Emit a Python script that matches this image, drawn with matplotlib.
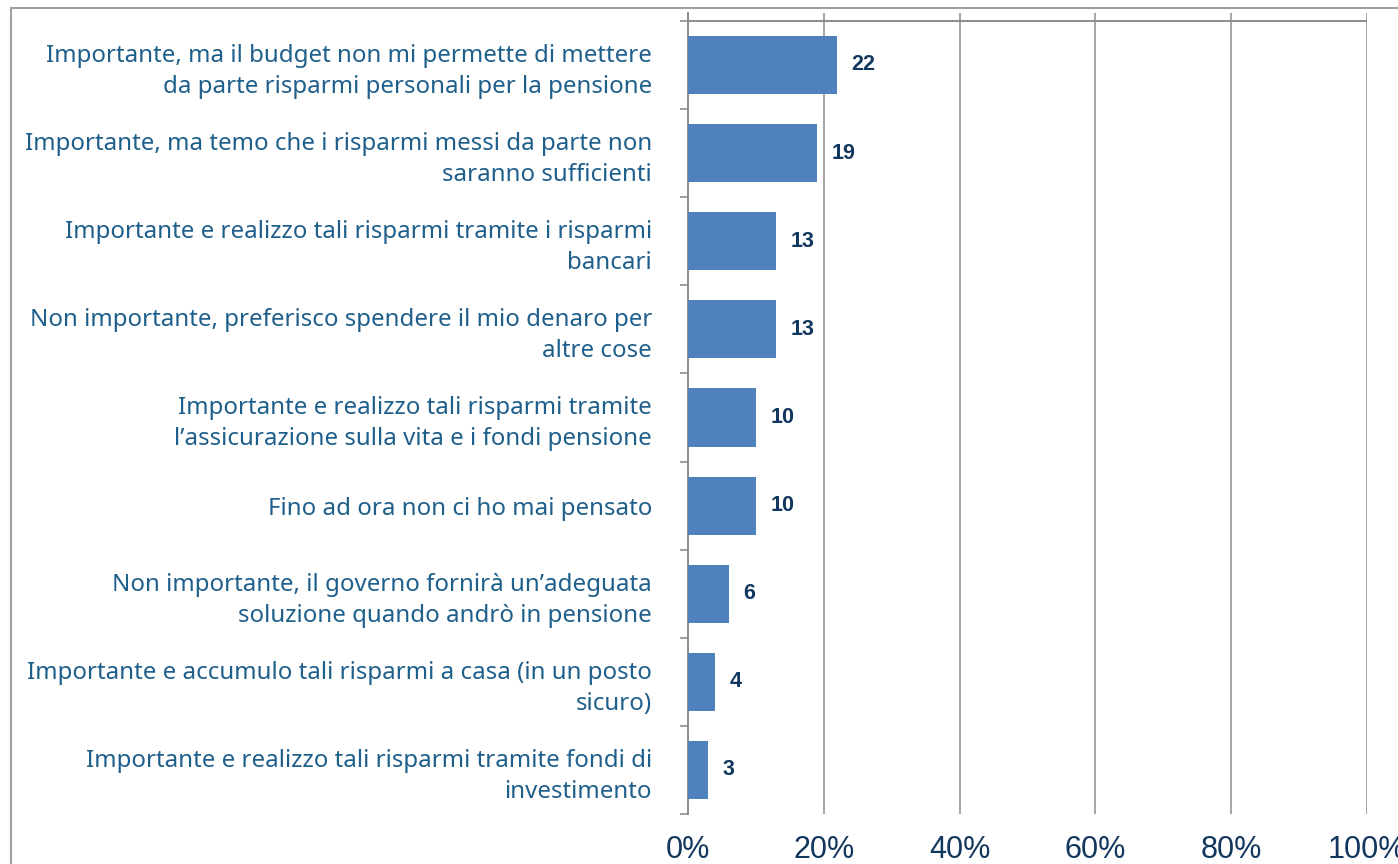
import matplotlib.pyplot as plt
from matplotlib.patches import Rectangle

# risposte (dall'alto verso il basso) e percentuali
labels = [
    'Importante, ma il budget non mi permette di mettere\nda parte risparmi personali per la pensione',
    'Importante, ma temo che i risparmi messi da parte non\nsaranno sufficienti',
    'Importante e realizzo tali risparmi tramite i risparmi\nbancari',
    'Non importante, preferisco spendere il mio denaro per\naltre cose',
    'Importante e realizzo tali risparmi tramite\nl\u2019assicurazione sulla vita e i fondi pensione',
    'Fino ad ora non ci ho mai pensato',
    'Non importante, il governo fornirà un\u2019adeguata\nsoluzione quando andrò in pensione',
    'Importante e accumulo tali risparmi a casa (in un posto\nsicuro)',
    'Importante e realizzo tali risparmi tramite fondi di\ninvestimento',
]
values = [22, 19, 13, 13, 10, 10, 6, 4, 3]
xticks = [0, 20, 40, 60, 80, 100]
xtick_labels = ['0%', '20%', '40%', '60%', '80%', '100%']

bar_col = '#4F81BD'
text_col = '#1F5F8B'
num_col = '#12375F'
line_col = '#8C8C8C'

fig = plt.figure(figsize=(13.98, 8.64), dpi=100)
ax = fig.add_axes([688 / 1398, 1 - 814 / 864, 679 / 1398, 801 / 864])

pos = list(range(len(values)))
ax.barh(pos, values, height=0.66, color=bar_col, zorder=3)

for p, v in zip(pos, values):
    ax.text(v + 2.1, p, str(v), va='center', ha='left', fontsize=15.5,
            fontweight='bold', color=num_col, family='Liberation Sans')

ax.set_xlim(0, 100)
ax.set_ylim(len(values) - 0.5, -0.59)

# griglia verticale e linea superiore
for t in xticks[1:]:
    ax.axvline(t, color=line_col, lw=1.1, zorder=1)
ax.axhline(-0.5, color=line_col, lw=1.4, zorder=2)

for s in ['top', 'right', 'bottom']:
    ax.spines[s].set_visible(False)
ax.spines['left'].set_color(line_col)
ax.spines['left'].set_linewidth(1.4)

ax.set_xticks(xticks)
ax.set_xticklabels(xtick_labels, fontsize=22, color=num_col, family='Liberation Sans')
ax.tick_params(axis='x', length=0, pad=15)

ax.set_yticks(pos)
ax.set_yticklabels(labels, fontsize=17.3, color=text_col, family='Noto Sans',
                   linespacing=1.38)
ax.tick_params(axis='y', which='major', length=0, pad=26)
ax.set_yticks([p - 0.5 for p in pos] + [len(values) - 0.5], minor=True)
ax.tick_params(axis='y', which='minor', length=6, width=1.2, color=line_col)

# cornice esterna
fig.add_artist(Rectangle((11 / 1398, -0.2), 2, 1.2 - 8 / 864,
                         transform=fig.transFigure, fill=False,
                         edgecolor='#A0A0A0', lw=1.5))

fig.savefig('out.png', dpi=100)
